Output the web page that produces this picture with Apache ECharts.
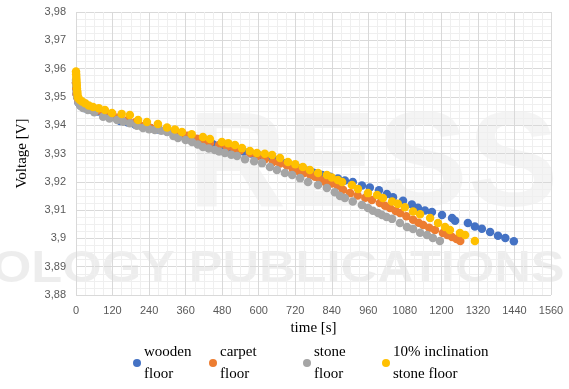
<!DOCTYPE html>
<html>
<head>
<meta charset="utf-8">
<script src="https://cdn.jsdelivr.net/npm/echarts@6/dist/echarts.min.js"></script>
<style>
  html, body { margin: 0; padding: 0; background: #fff; }
  #chart { width: 569px; height: 389px; }
</style>
</head>
<body>
<div id="chart"></div>
<script>
// Battery voltage [V] over time [s] for four driving surfaces: [time, voltage]
const woodenFloor = [
  [0,3.955],[1,3.953],[2,3.951],[4,3.950],[8,3.948],[15,3.947],[30,3.946],[50,3.9455],
  [72,3.9448],[96,3.9438],[120,3.943],[145,3.9415],[170,3.9410],[195,3.9402],[220,3.9395],
  [245,3.939],[270,3.9385],[299,3.9378],[325,3.937],[350,3.9363],[375,3.9357],[400,3.935],
  [425,3.9342],[450,3.9333],[475,3.9327],[500,3.932],[525,3.9315],[550,3.9307],[575,3.930],
  [600,3.9294],[625,3.9287],[650,3.928],[675,3.927],[700,3.926],[730,3.9248],[755,3.924],
  [780,3.9232],[808,3.9224],[835,3.9218],[860,3.9212],[883,3.9205],[909,3.9199],[939,3.9187],
  [965,3.918],[995,3.917],[1021,3.9157],[1041,3.9145],[1074,3.9133],[1103,3.912],[1123,3.9108],
  [1146,3.9099],[1169,3.9093],[1202,3.9083],[1235,3.9072],[1245,3.9062],[1287,3.9054],
  [1310,3.9042],[1333,3.9034],[1360,3.9023],[1386,3.9009],[1410,3.9001],[1438,3.899]
];
const carpetFloor = [
  [0,3.955],[1,3.953],[2,3.951],[4,3.950],[8,3.9485],[15,3.9475],[30,3.9465],[50,3.946],
  [72,3.9452],[96,3.9444],[120,3.9438],[145,3.943],[170,3.9418],[195,3.941],[217,3.9396],
  [245,3.939],[270,3.9388],[299,3.9383],[325,3.9368],[345,3.9366],[365,3.9363],[397,3.9352],
  [420,3.9343],[440,3.9337],[470,3.933],[496,3.9323],[520,3.9316],[539,3.9311],[571,3.9302],
  [594,3.929],[620,3.928],[647,3.927],[670,3.9265],[693,3.9258],[713,3.9243],[730,3.9238],
  [749,3.9231],[770,3.9224],[785,3.9218],[800,3.921],[818,3.9199],[840,3.9194],[860,3.9186],
  [877,3.9172],[900,3.916],[925,3.9152],[950,3.9144],[972,3.9136],[998,3.9125],[1015,3.9115],
  [1031,3.9107],[1050,3.9097],[1064,3.909],[1085,3.9078],[1107,3.9066],[1125,3.9055],
  [1140,3.9047],[1160,3.9038],[1179,3.903],[1205,3.9019],[1220,3.9012],[1235,3.9005],
  [1250,3.8998],[1262,3.8991]
];
const stoneFloor = [
  [0,3.956],[1,3.954],[2,3.952],[4,3.950],[8,3.948],[15,3.9468],[23,3.9461],[39,3.9454],
  [60,3.9446],[89,3.943],[110,3.9424],[135,3.9418],[155,3.9412],[177,3.9407],[200,3.9398],
  [220,3.939],[240,3.9386],[259,3.9383],[280,3.938],[299,3.9376],[320,3.9362],[335,3.9355],
  [360,3.9348],[381,3.9341],[400,3.9332],[417,3.9323],[436,3.9318],[456,3.9312],[470,3.9307],
  [489,3.9302],[510,3.9296],[529,3.9291],[555,3.928],[585,3.9273],[611,3.9266],[637,3.9252],
  [660,3.9242],[686,3.9231],[710,3.9224],[736,3.9213],[762,3.9199],[795,3.9189],[824,3.9178],
  [850,3.9163],[867,3.915],[883,3.9143],[909,3.913],[939,3.9118],[959,3.9107],[975,3.9098],
  [992,3.909],[1005,3.9083],[1020,3.9076],[1038,3.9069],[1064,3.9054],[1087,3.904],
  [1107,3.9033],[1130,3.902],[1153,3.9012],[1172,3.9001],[1195,3.8991]
];
const inclinedStoneFloor = [
  [0,3.959],[0.5,3.958],[1,3.957],[1.5,3.956],[2,3.955],[2.5,3.954],[3,3.953],[4,3.952],
  [5,3.951],[6,3.950],[8,3.9495],[13,3.9489],[20,3.9484],[30,3.9478],[42,3.947],[56,3.9464],
  [75,3.946],[95,3.9454],[118,3.9443],[150,3.944],[177,3.9436],[204,3.9418],[233,3.9411],
  [269,3.9404],[299,3.9392],[325,3.9385],[348,3.9376],[380,3.9368],[417,3.9358],[440,3.9351],
  [479,3.9341],[500,3.9336],[522,3.933],[545,3.9319],[571,3.9309],[594,3.9302],[620,3.9299],
  [644,3.9295],[670,3.9284],[696,3.927],[720,3.9262],[745,3.9252],[768,3.9242],[795,3.9231],
  [824,3.9224],[840,3.9215],[860,3.9206],[874,3.9199],[906,3.9189],[926,3.9175],[959,3.916],
  [989,3.9153],[1008,3.9143],[1038,3.913],[1057,3.9122],[1080,3.911],[1107,3.9095],
  [1130,3.9085],[1163,3.9072],[1189,3.9054],[1212,3.904],[1228,3.903],[1261,3.9019],
  [1278,3.9012],[1310,3.8991]
];

const seriesNames = ['wooden\nfloor', 'carpet\nfloor', 'stone\nfloor', '10% inclination\nstone floor'];
const seriesData = [woodenFloor, carpetFloor, stoneFloor, inclinedStoneFloor];
const seriesColors = ['#4472C4', '#ED7D31', '#A5A5A5', '#FFC000'];

const chart = echarts.init(document.getElementById('chart'), null, { renderer: 'canvas' });

const serif = '"Liberation Serif", "DejaVu Serif", serif';
const sans = '"Liberation Sans", Arial, sans-serif';
const legendLefts = [133, 209, 303, 382];

const option = {
  backgroundColor: '#fff',
  animation: false,
  graphic: [
    // faint publisher watermark behind the plot
    { type: 'text', z: -10, left: 188, top: 100,
      style: { text: 'RESS', font: 'bold 136px ' + sans, fill: 'rgba(0,0,0,0.045)' } },
    { type: 'text', z: -10, x: -8, y: 248, scaleX: 1.15,
      style: { text: 'OLOGY PUBLICATIONS', font: 'bold 44px ' + sans, fill: 'rgba(0,0,0,0.07)' } }
  ],
  grid: { left: 76, right: 18, top: 12, bottom: 94 },
  xAxis: {
    type: 'value', min: 0, max: 1560, interval: 120,
    name: 'time [s]', nameLocation: 'middle', nameGap: 24,
    nameTextStyle: { fontFamily: serif, fontSize: 15, color: '#000' },
    axisLine: { show: false }, axisTick: { show: false },
    axisLabel: { color: '#595959', fontFamily: sans, fontSize: 11, margin: 10, formatter: v => String(v) },
    splitLine: { show: true, lineStyle: { color: '#d9d9d9', width: 1 } },
    minorTick: { show: false, splitNumber: 4 },
    minorSplitLine: { show: true, lineStyle: { color: '#efefef', width: 1 } }
  },
  yAxis: {
    type: 'value', min: 3.88, max: 3.98, interval: 0.01,
    name: 'Voltage [V]', nameLocation: 'middle', nameGap: 46, nameRotate: 90,
    nameTextStyle: { fontFamily: serif, fontSize: 15, color: '#000' },
    axisLine: { show: false }, axisTick: { show: false },
    axisLabel: {
      color: '#595959', fontFamily: sans, fontSize: 11, margin: 10,
      formatter: v => String(+v.toFixed(2)).replace('.', ',')
    },
    splitLine: { show: true, lineStyle: { color: '#d9d9d9', width: 1 } },
    minorTick: { show: false, splitNumber: 4 },
    minorSplitLine: { show: true, lineStyle: { color: '#efefef', width: 1 } }
  },
  legend: seriesNames.map((n, i) => ({
    data: [n], left: legendLefts[i], top: 341, orient: 'horizontal',
    icon: 'circle', itemWidth: 8, itemHeight: 8, itemGap: 0, padding: 0,
    selectedMode: false,
    textStyle: { fontFamily: serif, fontSize: 15, color: '#000', lineHeight: 22, padding: [0, 0, 0, -2] }
  })),
  series: seriesNames.map((n, i) => ({
    name: n, type: 'scatter', data: seriesData[i],
    symbol: 'circle', symbolSize: 8.5,
    itemStyle: { color: seriesColors[i], opacity: 1 },
    emphasis: { disabled: true }
  }))
};

chart.setOption(option);
</script>
</body>
</html>
